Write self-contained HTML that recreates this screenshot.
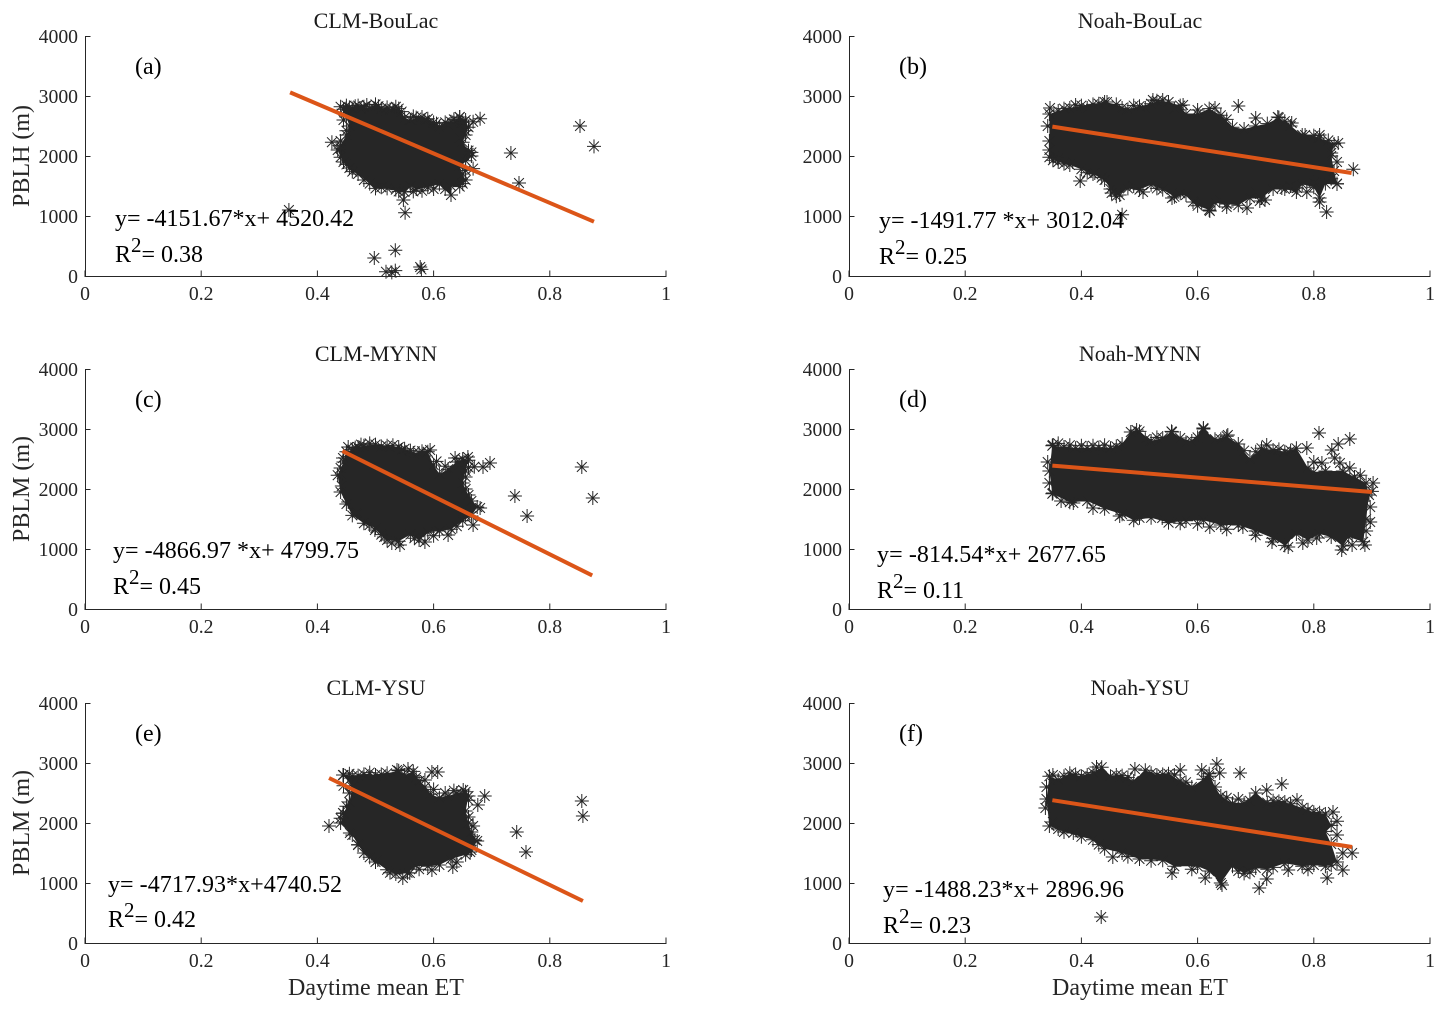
<!DOCTYPE html>
<html lang="en">
<head>
<meta charset="utf-8">
<title>PBLH vs daytime mean ET</title>
<style>
html,body{margin:0;padding:0;background:#fff;}
svg{display:block;}
text{font-family:"Liberation Serif",serif;}
.ttl{font-size:22px;fill:#1a1a1a;text-anchor:middle;}
.ann{font-size:24px;fill:#000;}
.lab{font-size:24px;fill:#262626;text-anchor:middle;}
.tick{font-size:19.7px;fill:#262626;}
</style>
</head>
<body>
<svg id="fig" width="1445" height="1013" viewBox="0 0 1445 1013" xmlns="http://www.w3.org/2000/svg">
<rect width="1445" height="1013" fill="#fff"/>
<g id="plots"></g>

<text class="ttl" x="376" y="28">CLM-BouLac</text>
<text class="ttl" x="1140" y="28">Noah-BouLac</text>
<text class="ttl" x="376" y="361">CLM-MYNN</text>
<text class="ttl" x="1140" y="361">Noah-MYNN</text>
<text class="ttl" x="376" y="695">CLM-YSU</text>
<text class="ttl" x="1140" y="695">Noah-YSU</text>

<text class="lab" transform="translate(29,156) rotate(-90)">PBLH (m)</text>
<text class="lab" transform="translate(29,489) rotate(-90)">PBLM (m)</text>
<text class="lab" transform="translate(29,823) rotate(-90)">PBLM (m)</text>
<text class="lab" x="376" y="995">Daytime mean ET</text>
<text class="lab" x="1140" y="995">Daytime mean ET</text>

<text class="ann" x="135" y="74">(a)</text>
<text class="ann" x="899" y="74">(b)</text>
<text class="ann" x="135" y="407">(c)</text>
<text class="ann" x="899" y="407">(d)</text>
<text class="ann" x="135" y="741">(e)</text>
<text class="ann" x="899" y="741">(f)</text>

<text class="ann" x="115" y="226">y= -4151.67*x+ 4520.42</text>
<text class="ann" x="115" y="262">R<tspan dy="-10" font-size="21">2</tspan><tspan dy="10">= 0.38</tspan></text>
<text class="ann" x="879" y="228">y= -1491.77 *x+ 3012.04</text>
<text class="ann" x="879" y="264">R<tspan dy="-10" font-size="21">2</tspan><tspan dy="10">= 0.25</tspan></text>
<text class="ann" x="113" y="558" textLength="246">y= -4866.97 *x+ 4799.75</text>
<text class="ann" x="113" y="594">R<tspan dy="-10" font-size="21">2</tspan><tspan dy="10">= 0.45</tspan></text>
<text class="ann" x="877" y="562" textLength="229">y= -814.54*x+ 2677.65</text>
<text class="ann" x="877" y="598">R<tspan dy="-10" font-size="21">2</tspan><tspan dy="10">= 0.11</tspan></text>
<text class="ann" x="108" y="892" textLength="234">y= -4717.93*x+4740.52</text>
<text class="ann" x="108" y="927">R<tspan dy="-10" font-size="21">2</tspan><tspan dy="10">= 0.42</tspan></text>
<text class="ann" x="883" y="897" textLength="241">y= -1488.23*x+ 2896.96</text>
<text class="ann" x="883" y="933">R<tspan dy="-10" font-size="21">2</tspan><tspan dy="10">= 0.23</tspan></text>
</svg>

<script>
// Tick labels
const xTickValues = [0, 0.2, 0.4, 0.6, 0.8, 1];
const yTickValues = [0, 1000, 2000, 3000, 4000];

// Outer ring of the dense point cloud, one [ET, PBL height] per point
const cloudA = [[.44,2820],[.45,2840],[.46,2790],[.47,2840],[.48,2820],[.49,2800],[.50,2860],[.51,2790],[.52,2810],[.53,2780],[.54,2790],[.545,2740],[.55,2640],[.56,2600],[.57,2640],[.58,2650],[.59,2620],[.60,2560],[.61,2490],[.62,2560],[.63,2570],[.64,2590],[.645,2650],[.655,2600],[.66,2480],[.655,2350],[.65,2230],[.66,2090],[.665,2000],[.655,1920],[.645,1830],[.65,1700],[.655,1600],[.645,1490],[.63,1500],[.63,1350],[.61,1530],[.59,1480],[.57,1450],[.56,1500],[.55,1400],[.54,1410],[.52,1460],[.50,1460],[.49,1540],[.47,1700],[.46,1740],[.45,1860],[.44,1980],[.435,2100],[.44,2180],[.45,2350],[.455,2500],[.45,2650]];
// Extra stars around the edge of the cloud
const fringeA = [[.445,2780],[.455,2810],[.465,2830],[.475,2800],[.485,2850],[.505,2830],[.525,2770],[.535,2820],[.565,2660],[.585,2600],[.605,2540],[.625,2520],[.635,2610],[.65,2560],[.655,2420],[.645,2300],[.665,2060],[.655,1760],[.65,1540],[.62,1450],[.60,1450],[.58,1420],[.565,1410],[.535,1440],[.51,1480],[.48,1600],[.455,1800],[.445,1900],[.44,2250],[.45,2420],[.445,2600]];
const outliersA = [[.351,1100],[.425,2230],[.44,2130],[.548,1267],[.551,1055],[.498,300],[.534,430],[.518,70],[.528,60],[.534,90],[.577,150],[.579,110],[.645,2650],[.668,2570],[.68,2620],[.66,2050],[.668,1790],[.733,2050],[.747,1550],[.852,2500],[.876,2160]];
const lineAx = [.353,.876];
const lineAy = [3060,905];

const cloudB = [[.345,2700],[.36,2750],[.38,2800],[.40,2840],[.42,2860],[.44,2900],[.46,2860],[.48,2780],[.50,2830],[.52,2870],[.53,2920],[.55,2900],[.57,2840],[.58,2700],[.60,2700],[.62,2790],[.64,2680],[.66,2480],[.68,2450],[.70,2500],[.72,2540],[.74,2640],[.76,2500],[.78,2350],[.80,2340],[.81,2300],[.835,2200],[.83,2000],[.835,1750],[.84,1540],[.82,1540],[.81,1300],[.80,1480],[.78,1530],[.77,1400],[.75,1450],[.73,1450],[.71,1300],[.69,1300],[.67,1180],[.65,1200],[.63,1220],[.62,1100],[.60,1170],[.58,1350],[.56,1320],[.54,1440],[.52,1520],[.50,1440],[.48,1460],[.46,1330],[.45,1450],[.44,1600],[.42,1700],[.40,1780],[.38,1850],[.36,1900],[.345,1980],[.345,2250]];
const fringeB = [[.346,2800],[.37,2790],[.39,2850],[.41,2800],[.43,2870],[.444,2900],[.47,2800],[.49,2840],[.51,2800],[.523,2933],[.54,2933],[.56,2780],[.575,2850],[.60,2767],[.63,2800],[.65,2610],[.70,2633],[.738,2650],[.75,2580],[.762,2550],[.785,2350],[.81,2350],[.825,2260],[.842,2217],[.83,2050],[.84,1900],[.84,1533],[.83,1620],[.81,1233],[.788,1400],[.771,1467],[.745,1467],[.716,1267],[.707,1250],[.685,1133],[.65,1150],[.638,1267],[.621,1083],[.607,1233],[.592,1233],[.556,1300],[.506,1400],[.466,1350],[.452,1383],[.423,1717],[.351,1930],[.36,1960],[.37,1870],[.385,1900],[.41,1720],[.435,1640],[.49,1500],[.53,1460],[.57,1380],[.70,1400],[.76,1500],[.80,1560],[.345,2100],[.342,2500]];
const outliersB = [[.398,1583],[.47,1020],[.67,2833],[.822,1067],[.868,1780]];
const lineBx = [.35,.865];
const lineBy = [2490,1717];

const cloudC = [[.45,2620],[.46,2660],[.47,2700],[.48,2720],[.50,2740],[.52,2720],[.54,2700],[.55,2670],[.565,2600],[.58,2630],[.59,2620],[.60,2400],[.61,2250],[.625,2330],[.64,2450],[.65,2500],[.66,2480],[.655,2300],[.65,2100],[.66,1900],[.675,1700],[.665,1550],[.65,1470],[.63,1330],[.61,1300],[.59,1280],[.575,1150],[.56,1240],[.54,1130],[.52,1150],[.51,1240],[.50,1350],[.48,1430],[.46,1560],[.45,1750],[.44,1950],[.435,2230],[.445,2450]];
const fringeC = [[.453,2700],[.465,2690],[.475,2740],[.49,2760],[.51,2710],[.53,2730],[.545,2650],[.56,2640],[.575,2600],[.594,2650],[.605,2460],[.62,2380],[.637,2517],[.645,2400],[.659,2533],[.66,2360],[.655,2200],[.655,2000],[.665,1800],[.668,1400],[.655,1560],[.64,1380],[.625,1233],[.60,1220],[.585,1117],[.567,1180],[.542,1067],[.528,1100],[.515,1200],[.499,1317],[.49,1400],[.468,1600],[.453,1783],[.442,2050],[.44,2350],[.444,2517]];
const outliersC = [[.442,2250],[.67,2370],[.685,2367],[.697,2433],[.74,1883],[.761,1550],[.855,2367],[.874,1850],[.68,1683]];
const lineCx = [.443,.873];
const lineCy = [2633,560];

const cloudD = [[.35,2720],[.37,2700],[.39,2680],[.41,2680],[.43,2690],[.45,2680],[.47,2750],[.485,2950],[.50,2960],[.52,2800],[.54,2850],[.555,2960],[.57,2850],[.59,2800],[.61,3000],[.63,2830],[.65,2880],[.67,2750],[.69,2500],[.71,2680],[.73,2650],[.75,2620],[.77,2680],[.79,2350],[.80,2280],[.82,2300],[.85,2300],[.87,2200],[.89,2100],[.895,1900],[.89,1500],[.885,1120],[.86,1200],[.85,1050],[.83,1200],[.81,1250],[.79,1150],[.77,1250],[.75,1060],[.73,1180],[.70,1300],[.67,1400],[.64,1400],[.61,1480],[.58,1470],[.55,1440],[.52,1520],[.49,1480],[.47,1580],[.44,1670],[.41,1800],[.38,1780],[.35,1920],[.345,2300]];
const fringeD = [[.351,2733],[.36,2760],[.38,2730],[.40,2720],[.42,2720],[.44,2730],[.46,2710],[.495,2983],[.51,2830],[.53,2860],[.556,2950],[.58,2780],[.60,2860],[.61,3017],[.64,2830],[.652,2900],[.68,2640],[.70,2620],[.719,2733],[.74,2660],[.76,2640],[.788,2683],[.80,2450],[.814,2433],[.836,2517],[.845,2433],[.862,2350],[.88,2230],[.902,2100],[.90,1960],[.897,1700],[.897,1450],[.89,1300],[.888,1067],[.866,1067],[.848,983],[.805,1183],[.781,1100],[.756,1033],[.728,1117],[.70,1230],[.678,1367],[.65,1330],[.621,1367],[.60,1420],[.57,1430],[.539,1517],[.50,1520],[.466,1550],[.42,1683],[.386,1767],[.365,1800],[.351,1933],[.345,2100],[.342,2450]];
const outliersD = [[.809,2933],[.831,2650],[.842,2750],[.862,2833]];
const lineDx = [.35,.90];
const lineDy = [2390,1950];

const cloudE = [[.445,2800],[.46,2780],[.48,2810],[.50,2800],[.52,2830],[.54,2870],[.55,2800],[.565,2860],[.575,2700],[.585,2600],[.595,2480],[.61,2420],[.625,2450],[.64,2500],[.655,2520],[.66,2450],[.655,2200],[.66,2000],[.665,1850],[.675,1700],[.665,1550],[.655,1470],[.63,1400],[.61,1300],[.59,1280],[.57,1290],[.555,1170],[.535,1150],[.52,1220],[.50,1350],[.48,1500],[.47,1640],[.46,1800],[.44,2000],[.445,2160],[.455,2350],[.46,2600]];
const fringeE = [[.444,2800],[.455,2820],[.47,2790],[.49,2840],[.51,2810],[.537,2883],[.556,2900],[.57,2760],[.585,2717],[.60,2560],[.62,2500],[.635,2540],[.651,2550],[.66,2380],[.66,2100],[.668,1950],[.671,1717],[.663,1517],[.64,1350],[.633,1267],[.597,1217],[.575,1230],[.559,1167],[.547,1083],[.525,1170],[.504,1383],[.49,1430],[.47,1633],[.456,1833],[.444,2167],[.44,2080],[.45,2280],[.455,2500],[.445,2620]];
const outliersE = [[.42,1950],[.597,2850],[.607,2850],[.676,2300],[.688,2450],[.743,1850],[.759,1517],[.855,2367],[.857,2117]];
const lineEx = [.42,.857];
const lineEy = [2750,700];

const cloudF = [[.345,2780],[.36,2720],[.38,2830],[.40,2780],[.42,2840],[.435,2930],[.45,2780],[.47,2790],[.49,2700],[.51,2880],[.53,2800],[.55,2820],[.57,2700],[.59,2600],[.61,2730],[.62,2820],[.63,2600],[.64,2450],[.66,2330],[.68,2330],[.70,2500],[.72,2340],[.74,2360],[.76,2320],[.78,2250],[.80,2180],[.82,2150],[.83,1960],[.82,1860],[.83,1650],[.84,1350],[.82,1280],[.80,1300],[.78,1280],[.75,1330],[.72,1230],[.70,1250],[.68,1160],[.66,1280],[.64,1000],[.62,1200],[.60,1280],[.56,1280],[.54,1380],[.50,1400],[.47,1500],[.44,1570],[.42,1720],[.40,1770],[.37,1850],[.345,1950],[.34,2400]];
const fringeF = [[.351,2800],[.37,2780],[.39,2810],[.41,2800],[.426,2933],[.46,2800],[.48,2760],[.492,2900],[.52,2830],[.54,2810],[.56,2800],[.57,2883],[.58,2680],[.607,2883],[.638,2833],[.62,2780],[.65,2420],[.67,2400],[.69,2370],[.719,2550],[.73,2370],[.75,2350],[.771,2383],[.79,2220],[.81,2170],[.833,2183],[.84,2030],[.84,1800],[.85,1500],[.85,1217],[.83,1300],[.823,1083],[.79,1230],[.756,1217],[.73,1260],[.719,1067],[.706,917],[.69,1180],[.67,1200],[.642,967],[.613,1083],[.59,1230],[.556,1167],[.52,1370],[.48,1440],[.454,1433],[.43,1640],[.386,1833],[.36,1900],[.351,2017],[.338,2250],[.34,2600]];
const outliersF = [[.434,433],[.633,2983],[.673,2833],[.745,2650],[.866,1500]];
const lineFx = [.35,.866];
const lineFy = [2380,1600];

const svgNS = 'http://www.w3.org/2000/svg';
const root = document.getElementById('plots');
const xDomain = 1;
const yDomain = 4000;
const plotW = 581;
const plotH = 240;

function node(tag, attrs, parent){
  const n = document.createElementNS(svgNS, tag);
  for (const k in attrs) n.setAttribute(k, attrs[k]);
  parent.appendChild(n);
  return n;
}

function starPath(cx, cy){
  const r = 7, d = 4.9;
  const s = [[r,0],[0,r],[d,d],[d,-d]];
  return s.map(v => 'M' + (cx - v[0]).toFixed(1) + ' ' + (cy - v[1]).toFixed(1) + 'L' + (cx + v[0]).toFixed(1) + ' ' + (cy + v[1]).toFixed(1)).join('');
}

function drawPanel(key, left, top, cloud, fringe, outliers, lx, ly){
  const sx = v => left + v / xDomain * plotW;
  const sy = v => top + plotH - v / yDomain * plotH;

  const g = node('g', {}, root);
  
  

  const poly = node('polygon', {points: cloud.map(p => sx(p[0]).toFixed(1) + ',' + sy(p[1]).toFixed(1)).join(' '), fill: '#262626'}, g);
  
  

  cloud.concat(fringe, outliers).forEach(p => {
    const star = node('path', {d: starPath(sx(p[0]), sy(p[1])), stroke: '#262626', 'stroke-width': 1, fill: 'none'}, g);
    
    
  });

  const fit = node('line', {x1: sx(lx[0]), y1: sy(ly[0]), x2: sx(lx[1]), y2: sy(ly[1]), stroke: '#dc5518', 'stroke-width': 4}, g);
  
  

  const xAxis = node('line', {x1: left - .5, y1: top + plotH + .5, x2: left + plotW + .5, y2: top + plotH + .5, stroke: '#262626', 'stroke-width': 1}, g);
  
  
  const yAxis = node('line', {x1: left + .5, y1: top, x2: left + .5, y2: top + plotH + .5, stroke: '#262626', 'stroke-width': 1}, g);
  
  

  xTickValues.forEach(v => {
    const t = node('line', {x1: sx(v), y1: top + plotH, x2: sx(v), y2: top + plotH - 5.5, stroke: '#262626', 'stroke-width': 1}, g);
    
    
    const l = node('text', {x: sx(v), y: top + plotH + 24, class: 'tick', 'text-anchor': 'middle'}, g);
    
    
    l.textContent = String(v);
  });
  yTickValues.forEach(v => {
    const t = node('line', {x1: left, y1: sy(v) + .5, x2: left + 5.5, y2: sy(v) + .5, stroke: '#262626', 'stroke-width': 1}, g);
    
    
    const l = node('text', {x: left - 7, y: sy(v) + 7, class: 'tick', 'text-anchor': 'end'}, g);
    
    
    l.textContent = String(v);
  });
}

drawPanel('a', 85, 36, cloudA, fringeA, outliersA, lineAx, lineAy);
drawPanel('b', 849, 36, cloudB, fringeB, outliersB, lineBx, lineBy);
drawPanel('c', 85, 369, cloudC, fringeC, outliersC, lineCx, lineCy);
drawPanel('d', 849, 369, cloudD, fringeD, outliersD, lineDx, lineDy);
drawPanel('e', 85, 703, cloudE, fringeE, outliersE, lineEx, lineEy);
drawPanel('f', 849, 703, cloudF, fringeF, outliersF, lineFx, lineFy);
</script>
</body>
</html>
